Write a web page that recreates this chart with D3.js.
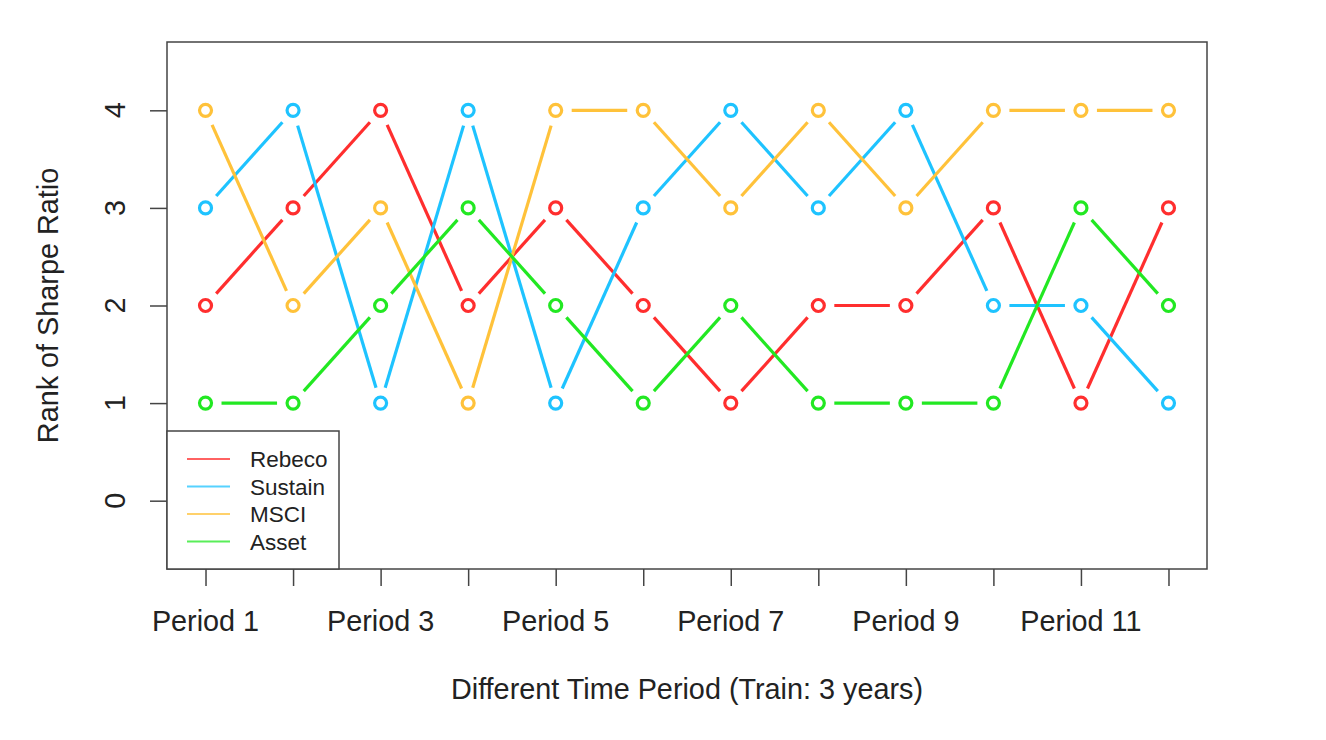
<!DOCTYPE html>
<html>
<head>
<meta charset="utf-8">
<script src="https://cdn.jsdelivr.net/npm/d3@7"></script>
<style>
  body { margin: 0; background: #fff; }
  svg text { font-family: "Liberation Sans", Arial, Helvetica, sans-serif; fill: #222; }
</style>
</head>
<body>
<svg id="chart" width="1326" height="740"></svg>
<script>
var periods = [1, 2, 3, 4, 5, 6, 7, 8, 9, 10, 11, 12];
var rebeco  = [2, 3, 4, 2, 3, 2, 1, 2, 2, 3, 1, 3];
var sustain = [3, 4, 1, 4, 1, 3, 4, 3, 4, 2, 2, 1];
var msci    = [4, 2, 3, 1, 4, 4, 3, 4, 3, 4, 4, 4];
var asset   = [1, 1, 2, 3, 2, 1, 2, 1, 1, 1, 3, 2];
var seriesNames = ["Rebeco", "Sustain", "MSCI", "Asset"];
var xTickLabels = ["Period 1", "Period 3", "Period 5", "Period 7", "Period 9", "Period 11"];
var yTicks = [0, 1, 2, 3, 4];

var colors = {
    "Rebeco" : "#ff2e2e",
    "Sustain" : "#1ec3ff",
    "MSCI" : "#ffc23a",
    "Asset" : "#22e822"
};

var series = [
    {name: "Rebeco", values: rebeco},
    {name: "Sustain", values: sustain},
    {name: "MSCI", values: msci},
    {name: "Asset", values: asset}
];

var svg = d3.select("#chart");
var box = {left: 167, right: 1207, top: 42, bottom: 569};
var fontSize = "28.8px";

// R style: 4% padding on both ends
var x = d3.scaleLinear().domain([0.56, 12.44]).range([box.left, box.right]);
var y = d3.scaleLinear().domain([-0.7, 4.7]).range([box.bottom, box.top]);

// x axis ticks
var xAxis = d3.axisBottom(x).tickValues(periods).tickSize(17).tickFormat("");
var gx = svg.append("g").attr("transform", "translate(0," + box.bottom + ")").call(xAxis);
gx.select(".domain").remove();
gx.selectAll("line").attr("stroke", "#444").attr("stroke-width", 1.5);

svg.append("g").selectAll("text")
    .data(xTickLabels)
    .enter()
    .append("text")
    .attr("x", function (d) { return x(+d.replace("Period ", "")); })
    .attr("y", 631)
    .attr("text-anchor", "middle")
    .style("font-size", fontSize)
    .text(function (d) { return d; });

// y axis ticks
var yAxis = d3.axisLeft(y).tickValues(yTicks).tickSize(17).tickFormat("");
var gy = svg.append("g").attr("transform", "translate(" + box.left + ",0)").call(yAxis);
gy.select(".domain").remove();
gy.selectAll("line").attr("stroke", "#444").attr("stroke-width", 1.5);

svg.append("g").selectAll("text")
    .data(yTicks)
    .enter()
    .append("text")
    .attr("transform", function (d) { return "translate(125," + y(d) + ") rotate(-90)"; })
    .attr("text-anchor", "middle")
    .style("font-size", fontSize)
    .text(function (d) { return d; });

// axis titles
svg.append("text")
    .attr("x", (box.left + box.right) / 2)
    .attr("y", 699)
    .attr("text-anchor", "middle")
    .style("font-size", fontSize)
    .text("Different Time Period (Train: 3 years)");

svg.append("text")
    .attr("transform", "translate(58," + (box.top + box.bottom) / 2 + ") rotate(-90)")
    .attr("text-anchor", "middle")
    .style("font-size", fontSize)
    .text("Rank of Sharpe Ratio");

// lines with gaps around points (type = "b")
var gap = 16;
series.forEach(function (s) {
    var segs = [];
    for (var i = 0; i < s.values.length - 1; i++) {
        var x0 = x(periods[i]), y0 = y(s.values[i]);
        var x1 = x(periods[i + 1]), y1 = y(s.values[i + 1]);
        var len = Math.sqrt((x1 - x0) * (x1 - x0) + (y1 - y0) * (y1 - y0));
        var ux = (x1 - x0) / len, uy = (y1 - y0) / len;
        segs.push([x0 + ux * gap, y0 + uy * gap, x1 - ux * gap, y1 - uy * gap]);
    }
    var g = svg.append("g").attr("class", "series");
    g.selectAll("line")
        .data(segs)
        .enter()
        .append("line")
        .attr("x1", function (d) { return d[0]; })
        .attr("y1", function (d) { return d[1]; })
        .attr("x2", function (d) { return d[2]; })
        .attr("y2", function (d) { return d[3]; })
        .attr("stroke", colors[s.name])
        .attr("stroke-width", 3.2);
    g.selectAll("circle")
        .data(s.values)
        .enter()
        .append("circle")
        .attr("cx", function (d, i) { return x(periods[i]); })
        .attr("cy", function (d) { return y(d); })
        .attr("r", 6)
        .attr("fill", "none")
        .attr("stroke", colors[s.name])
        .attr("stroke-width", 3.2);
});

// plot box
svg.append("rect")
    .attr("x", box.left)
    .attr("y", box.top)
    .attr("width", box.right - box.left)
    .attr("height", box.bottom - box.top)
    .attr("fill", "none")
    .attr("stroke", "#444")
    .attr("stroke-width", 1.5);

// legend
var legend = svg.append("g");
legend.append("rect")
    .attr("x", box.left)
    .attr("y", 431)
    .attr("width", 339 - box.left)
    .attr("height", box.bottom - 431)
    .attr("fill", "#fff")
    .attr("stroke", "#444")
    .attr("stroke-width", 1.5);

var rows = legend.selectAll("g.row")
    .data(seriesNames)
    .enter()
    .append("g")
    .attr("class", "row")
    .attr("transform", function (d, i) { return "translate(0," + (459 + i * 27.5) + ")"; });
rows.append("line")
    .attr("x1", 187).attr("x2", 230)
    .attr("stroke", function (d) { return colors[d]; })
    .attr("stroke-width", 2)
    .attr("stroke-opacity", 0.75);
rows.append("text")
    .attr("x", 250)
    .attr("y", 8)
    .style("font-size", "22.5px")
    .text(function (d) { return d; });
</script>
</body>
</html>
